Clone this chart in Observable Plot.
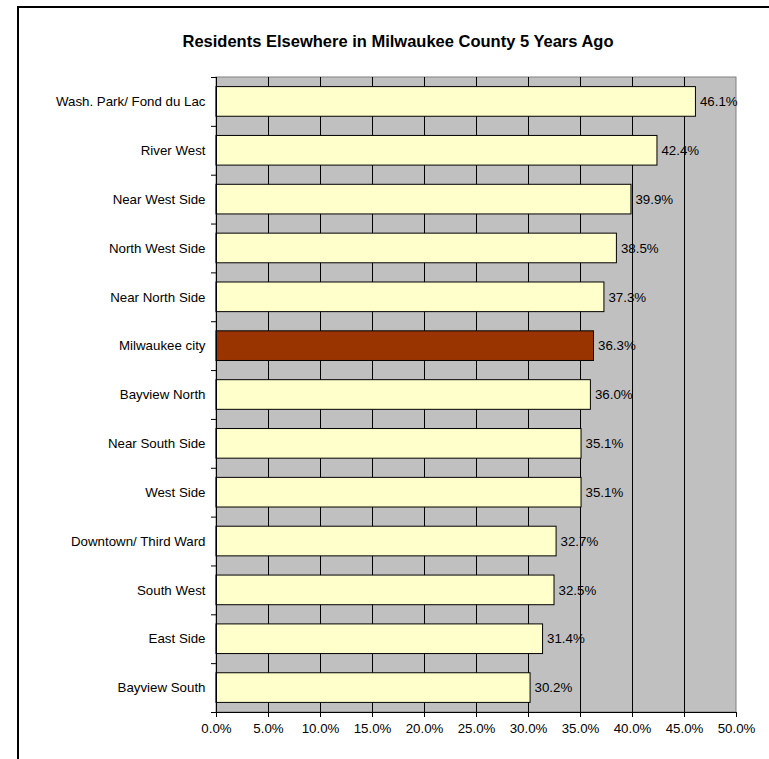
<!DOCTYPE html>
<html>
<head>
<meta charset="utf-8">
<script src="https://cdn.jsdelivr.net/npm/d3@7"></script>
<script src="https://cdn.jsdelivr.net/npm/@observablehq/plot@0.6"></script>
<style>
  html, body { margin: 0; padding: 0; background: #fff; }
  body { width: 769px; height: 759px; position: relative; overflow: hidden; font-family: "Liberation Sans", Arial, sans-serif; }
  #frame { position: absolute; left: 17px; top: 6px; width: 800px; height: 800px; border-left: 2px solid #000; border-top: 2px solid #000; }
  #title { position: absolute; left: 0; width: 796px; top: 32px; text-align: center; font-weight: bold; font-size: 16.5px; color: #000; }
  #chart { position: absolute; left: 0; top: 0; }
</style>
</head>
<body>
<div id="frame"></div>
<div id="title">Residents Elsewhere in Milwaukee County 5 Years Ago</div>
<div id="chart"></div>
<script>
const categories = ["Wash. Park/ Fond du Lac", "River West", "Near West Side", "North West Side", "Near North Side", "Milwaukee city", "Bayview North", "Near South Side", "West Side", "Downtown/ Third Ward", "South West", "East Side", "Bayview South"];
const values = [46.1, 42.4, 39.9, 38.5, 37.3, 36.3, 36.0, 35.1, 35.1, 32.7, 32.5, 31.4, 30.2];
const highlight = "Milwaukee city";
const xTicks = [0, 5, 10, 15, 20, 25, 30, 35, 40, 45, 50];

const data = categories.map((c, i) => ({name: c, value: values[i], i}));
const n = categories.length;

const chart = Plot.plot({
  width: 769,
  height: 759,
  marginLeft: 216,
  marginRight: 33,
  marginTop: 77,
  marginBottom: 47,
  style: {fontFamily: "'Liberation Sans', Arial, sans-serif", fontSize: "13.3px", color: "#000", background: "transparent"},
  x: {domain: [0, 50], label: null},
  y: {domain: [n, 0], label: null},
  marks: [
    Plot.rect([{}], {x1: 0, x2: 50, y1: 0, y2: n, fill: "#C0C0C0", stroke: "#808080", strokeWidth: 1}),
    Plot.ruleX(xTicks.slice(1, -1), {y1: 0, y2: n, stroke: "#000", strokeWidth: 1}),
    Plot.rect(data, {
      x1: 0, x2: "value",
      y1: d => d.i, y2: d => d.i + 1,
      insetTop: 9.6, insetBottom: 9.6,
      fill: d => d.name === highlight ? "#993300" : "#FFFFCC",
      stroke: "#000", strokeWidth: 1
    }),
    Plot.text(data, {
      x: "value", y: d => d.i + 0.5,
      text: d => d.value.toFixed(1) + "%",
      textAnchor: "start", dx: 4, fill: "#000", fontSize: 13.3
    }),
    Plot.text(data, {
      x: 0, y: d => d.i + 0.5, text: "name",
      textAnchor: "end", dx: -11, fill: "#000", fontSize: 13.3
    }),
    Plot.ruleX([0], {y1: 0, y2: n, stroke: "#000", strokeWidth: 1}),
    Plot.axisY(d3.range(0, n + 1), {tickSize: 5, tickFormat: () => "", stroke: "#000", label: null}),
    Plot.ruleY([n], {x1: 0, x2: 50, stroke: "#000", strokeWidth: 1}),
    Plot.axisX(xTicks, {tickSize: 5, tickPadding: 6, tickFormat: d => d.toFixed(1) + "%", fontSize: 13.3, stroke: "#000", fill: "#000", label: null})
  ]
});
document.getElementById("chart").appendChild(chart);
</script>
</body>
</html>
